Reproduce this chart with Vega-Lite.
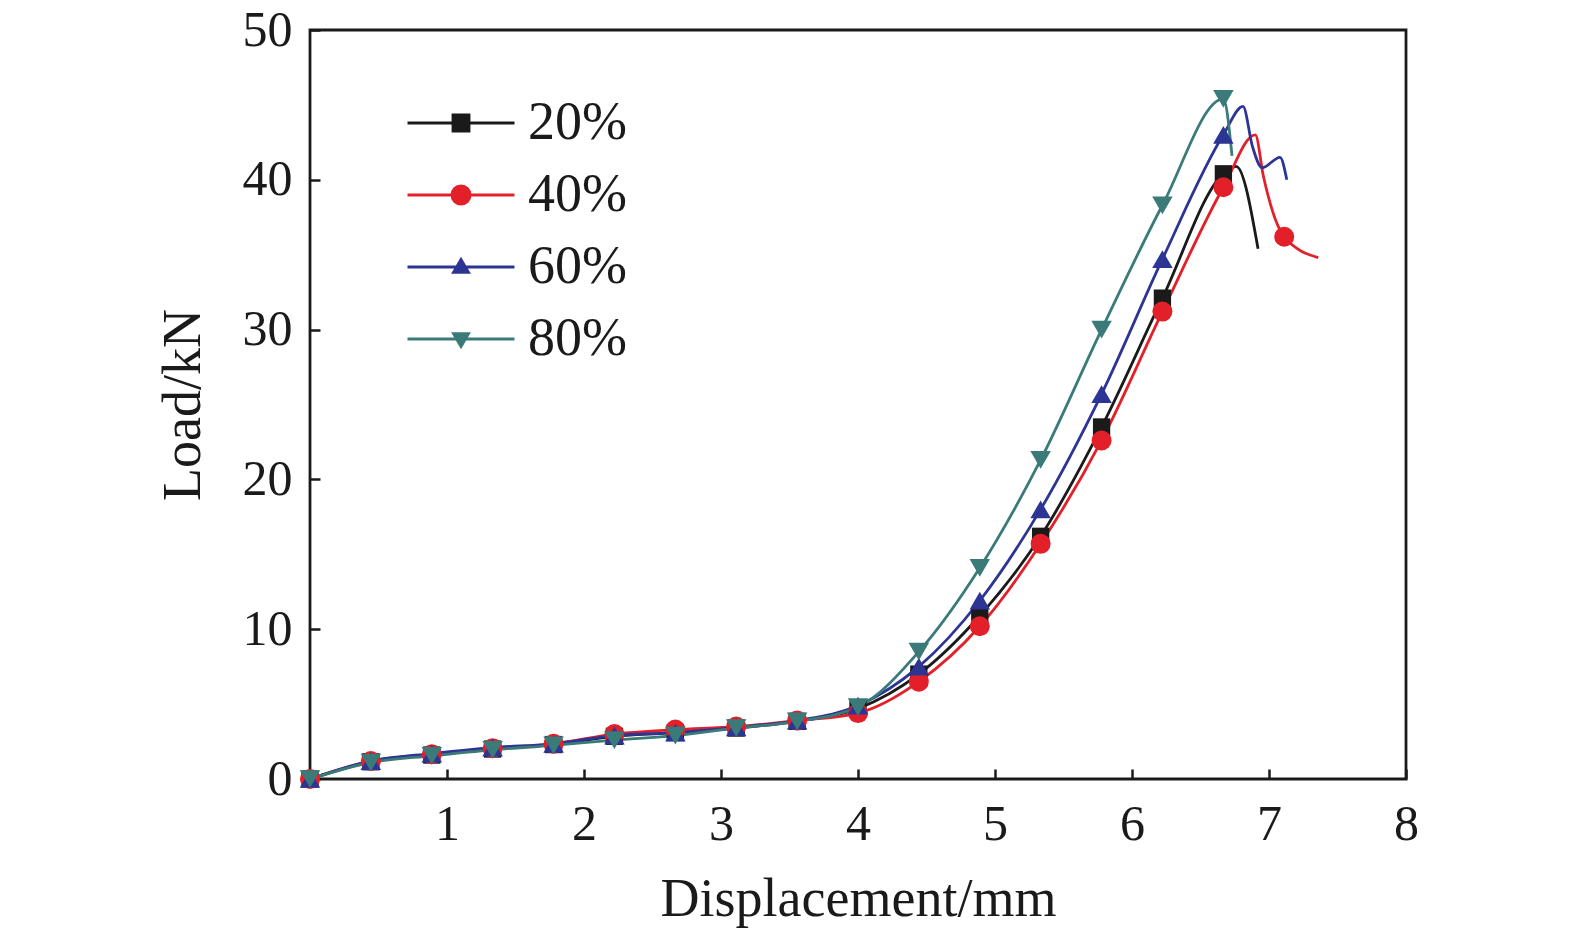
{
  "$schema": "https://vega.github.io/schema/vega-lite/v6.json",
  "width": 1096,
  "height": 749,
  "autosize": {"type": "none"},
  "padding": {"left": 310, "top": 30, "right": 169, "bottom": 159},
  "background": "white",
  "config": {
    "font": "Liberation Serif",
    "view": {"stroke": "#1a1a1a", "strokeWidth": 2.8},
    "axis": {
      "domain": false,
      "grid": false,
      "labelFlush": false,
      "tickColor": "#1a1a1a",
      "tickWidth": 2.5,
      "tickSize": -10,
      "labelFont": "Liberation Serif",
      "labelFontSize": 50,
      "labelColor": "#1a1a1a",
      "titleFont": "Liberation Serif",
      "titleFontSize": 54,
      "titleFontWeight": "normal",
      "titleColor": "#1a1a1a"
    }
  },
  "data": {
    "values": [
      {"s": "20%", "x": 0, "y": 0, "m": 1},
      {"s": "20%", "x": 0.444, "y": 1.15, "m": 1},
      {"s": "20%", "x": 0.889, "y": 1.6, "m": 1},
      {"s": "20%", "x": 1.333, "y": 2.0, "m": 1},
      {"s": "20%", "x": 1.778, "y": 2.3, "m": 1},
      {"s": "20%", "x": 2.222, "y": 2.85, "m": 1},
      {"s": "20%", "x": 2.667, "y": 3.1, "m": 1},
      {"s": "20%", "x": 3.111, "y": 3.4, "m": 1},
      {"s": "20%", "x": 3.556, "y": 3.85, "m": 1},
      {"s": "20%", "x": 4.0, "y": 4.7, "m": 1},
      {"s": "20%", "x": 4.444, "y": 7.0, "m": 1},
      {"s": "20%", "x": 4.889, "y": 10.9, "m": 1},
      {"s": "20%", "x": 5.333, "y": 16.2, "m": 1},
      {"s": "20%", "x": 5.778, "y": 23.5, "m": 1},
      {"s": "20%", "x": 6.222, "y": 32.1, "m": 1},
      {"s": "20%", "x": 6.667, "y": 40.4, "m": 1},
      {"s": "20%", "x": 6.76, "y": 40.9, "m": 0},
      {"s": "20%", "x": 6.92, "y": 35.4, "m": 0},

      {"s": "40%", "x": 0, "y": 0, "m": 1},
      {"s": "40%", "x": 0.444, "y": 1.2, "m": 1},
      {"s": "40%", "x": 0.889, "y": 1.65, "m": 1},
      {"s": "40%", "x": 1.333, "y": 2.05, "m": 1},
      {"s": "40%", "x": 1.778, "y": 2.35, "m": 1},
      {"s": "40%", "x": 2.222, "y": 3.0, "m": 1},
      {"s": "40%", "x": 2.667, "y": 3.3, "m": 1},
      {"s": "40%", "x": 3.111, "y": 3.5, "m": 1},
      {"s": "40%", "x": 3.556, "y": 3.9, "m": 1},
      {"s": "40%", "x": 4.0, "y": 4.4, "m": 1},
      {"s": "40%", "x": 4.444, "y": 6.5, "m": 1},
      {"s": "40%", "x": 4.889, "y": 10.2, "m": 1},
      {"s": "40%", "x": 5.333, "y": 15.7, "m": 1},
      {"s": "40%", "x": 5.778, "y": 22.6, "m": 1},
      {"s": "40%", "x": 6.222, "y": 31.2, "m": 1},
      {"s": "40%", "x": 6.667, "y": 39.5, "m": 1},
      {"s": "40%", "x": 6.9, "y": 43.0, "m": 0},
      {"s": "40%", "x": 6.96, "y": 40.2, "m": 0},
      {"s": "40%", "x": 7.111, "y": 36.2, "m": 1},
      {"s": "40%", "x": 7.36, "y": 34.8, "m": 0},

      {"s": "60%", "x": 0, "y": 0, "m": 1},
      {"s": "60%", "x": 0.444, "y": 1.2, "m": 1},
      {"s": "60%", "x": 0.889, "y": 1.7, "m": 1},
      {"s": "60%", "x": 1.333, "y": 2.1, "m": 1},
      {"s": "60%", "x": 1.778, "y": 2.35, "m": 1},
      {"s": "60%", "x": 2.222, "y": 2.9, "m": 1},
      {"s": "60%", "x": 2.667, "y": 3.1, "m": 1},
      {"s": "60%", "x": 3.111, "y": 3.45, "m": 1},
      {"s": "60%", "x": 3.556, "y": 3.9, "m": 1},
      {"s": "60%", "x": 4.0, "y": 4.9, "m": 1},
      {"s": "60%", "x": 4.444, "y": 7.5, "m": 1},
      {"s": "60%", "x": 4.889, "y": 11.9, "m": 1},
      {"s": "60%", "x": 5.333, "y": 18.0, "m": 1},
      {"s": "60%", "x": 5.778, "y": 25.7, "m": 1},
      {"s": "60%", "x": 6.222, "y": 34.7, "m": 1},
      {"s": "60%", "x": 6.667, "y": 43.0, "m": 1},
      {"s": "60%", "x": 6.81, "y": 44.9, "m": 0},
      {"s": "60%", "x": 6.88, "y": 42.2, "m": 0},
      {"s": "60%", "x": 6.95, "y": 40.8, "m": 0},
      {"s": "60%", "x": 7.08, "y": 41.5, "m": 0},
      {"s": "60%", "x": 7.13, "y": 40.0, "m": 0},

      {"s": "80%", "x": 0, "y": 0, "m": 1},
      {"s": "80%", "x": 0.444, "y": 1.1, "m": 1},
      {"s": "80%", "x": 0.889, "y": 1.55, "m": 1},
      {"s": "80%", "x": 1.333, "y": 1.95, "m": 1},
      {"s": "80%", "x": 1.778, "y": 2.25, "m": 1},
      {"s": "80%", "x": 2.222, "y": 2.6, "m": 1},
      {"s": "80%", "x": 2.667, "y": 2.9, "m": 1},
      {"s": "80%", "x": 3.111, "y": 3.4, "m": 1},
      {"s": "80%", "x": 3.556, "y": 3.85, "m": 1},
      {"s": "80%", "x": 4.0, "y": 4.8, "m": 1},
      {"s": "80%", "x": 4.444, "y": 8.5, "m": 1},
      {"s": "80%", "x": 4.889, "y": 14.1, "m": 1},
      {"s": "80%", "x": 5.333, "y": 21.3, "m": 1},
      {"s": "80%", "x": 5.778, "y": 30.0, "m": 1},
      {"s": "80%", "x": 6.222, "y": 38.3, "m": 1},
      {"s": "80%", "x": 6.667, "y": 45.4, "m": 1},
      {"s": "80%", "x": 6.73, "y": 41.6, "m": 0}
    ]
  },
  "encoding": {
    "x": {
      "field": "x",
      "type": "quantitative",
      "scale": {"domain": [0, 8], "nice": false},
      "axis": {"values": [1, 2, 3, 4, 5, 6, 7, 8], "labelPadding": 30, "titlePadding": 23, "title": "Displacement/mm"}
    },
    "y": {
      "field": "y",
      "type": "quantitative",
      "scale": {"domain": [0, 50], "nice": false},
      "axis": {"values": [0, 10, 20, 30, 40, 50], "labelPadding": 28, "titlePadding": 32, "title": "Load/kN"}
    },
    "color": {
      "field": "s",
      "type": "nominal",
      "scale": {"domain": ["20%", "40%", "60%", "80%"], "range": ["#1a1a1a", "#e3202a", "#2d3594", "#3a7a78"]},
      "legend": null
    }
  },
  "layer": [
    {
      "mark": {"type": "line", "interpolate": "monotone", "strokeWidth": 2.8},
      "encoding": {
        "color": {
          "field": "s",
          "type": "nominal",
          "legend": {
            "title": null,
            "orient": "none",
            "legendX": 96,
            "legendY": 65,
            "padding": 0,
            "symbolType": "stroke",
            "symbolSize": 11449,
            "symbolStrokeWidth": 2.8,
            "labelOffset": 12,
            "labelFont": "Liberation Serif",
            "labelFontSize": 54,
            "labelColor": "#1a1a1a",
            "rowPadding": 17,
            "encode": {
              "symbols": {
                "update": {
                  "y": {"value": 28},
                  "shape": {"signal": "datum.value === '20%' ? 'M-1,0H1M-0.15,-0.15H0.15V0.15H-0.15Z' : datum.value === '40%' ? 'M-1,0H1M-0.17,0A0.17,0.17,0,1,0,0.17,0A0.17,0.17,0,1,0,-0.17,0Z' : datum.value === '60%' ? 'M-1,0H1M0,-0.14L0.14,0.1L-0.14,0.1Z' : 'M-1,0H1M0,0.14L0.14,-0.1L-0.14,-0.1Z'"},
                  "fill": {"signal": "scale('color', datum.value)"},
                  "stroke": {"signal": "scale('color', datum.value)"},
                  "strokeWidth": {"value": 2.8}
                }
              },
              "labels": {
                "update": {
                  "y": {"value": 28}
                }
              }
            }
          }
        }
      }
    },
    {
      "transform": [{"filter": "datum.m == 1 && datum.s == '20%'"}],
      "mark": {"type": "point", "filled": true, "opacity": 1, "shape": "square", "size": 300}
    },
    {
      "transform": [{"filter": "datum.m == 1 && datum.s == '40%'"}],
      "mark": {"type": "point", "filled": true, "opacity": 1, "shape": "circle", "size": 400}
    },
    {
      "transform": [{"filter": "datum.m == 1 && datum.s == '60%'"}],
      "mark": {"type": "point", "filled": true, "opacity": 1, "shape": "triangle-up", "size": 420}
    },
    {
      "transform": [{"filter": "datum.m == 1 && datum.s == '80%'"}],
      "mark": {"type": "point", "filled": true, "opacity": 1, "shape": "triangle-down", "size": 420}
    }
  ]
}
